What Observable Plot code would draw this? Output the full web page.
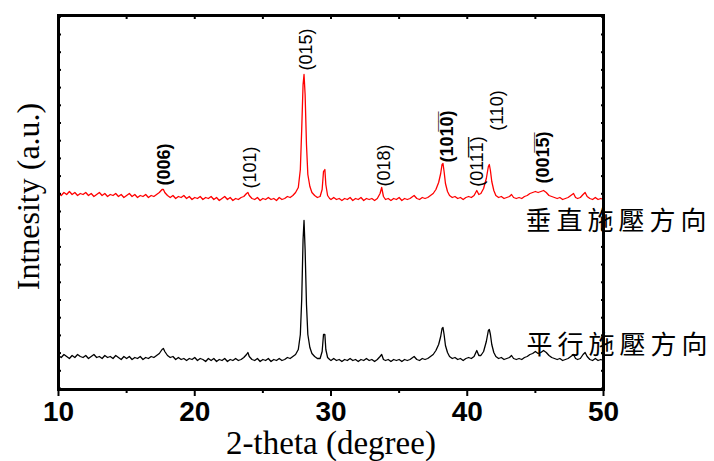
<!DOCTYPE html>
<html><head><meta charset="utf-8">
<script src="https://cdn.jsdelivr.net/npm/d3@7"></script>
<script src="https://cdn.jsdelivr.net/npm/@observablehq/plot@0.6"></script>
<style>html,body{margin:0;padding:0;background:#fff;}</style>
</head><body><div id="chart"></div>
<script>
// 2-theta (deg), intensity (a.u., offset traces)
const perpendicular = [[10.0,196],[10.2,194],[10.4,197],[10.6,195],[10.8,198],[11.0,195],[11.2,197],[11.4,194],[11.6,196],[11.8,195],[12.0,197],[12.2,194],[12.4,196],[12.6,193],[12.8,195],[13.0,197],[13.2,194],[13.4,196],[13.6,193],[13.8,195],[14.0,194],[14.2,196],[14.4,193],[14.6,195],[14.8,192],[15.0,194],[15.2,196],[15.4,193],[15.6,195],[15.8,192],[16.0,194],[16.2,193],[16.4,195],[16.6,192],[16.8,194],[17.0,193],[17.2,195],[17.4,197],[17.6,200],[17.7,200],[17.8,197],[18.0,194],[18.2,192],[18.4,194],[18.6,191],[18.8,193],[19.0,192],[19.2,194],[19.4,191],[19.6,193],[19.8,190],[20.0,192],[20.2,191],[20.4,193],[20.6,190],[20.8,192],[21.0,191],[21.2,193],[21.4,190],[21.6,192],[21.8,189],[22.0,191],[22.2,193],[22.4,190],[22.6,192],[22.8,189],[23.0,191],[23.2,190],[23.4,192],[23.6,193],[23.8,196],[23.9,197],[24.0,194],[24.2,191],[24.4,190],[24.6,192],[24.8,189],[25.0,191],[25.2,190],[25.4,192],[25.6,190],[25.8,191],[26.0,189],[26.2,192],[26.4,190],[26.6,191],[26.8,193],[27.0,192],[27.2,194],[27.4,197],[27.6,202],[27.75,220],[27.85,260],[27.95,305],[28.02,315],[28.1,295],[28.2,245],[28.3,215],[28.45,203],[28.6,197],[28.8,194],[29.0,192],[29.2,193],[29.35,200],[29.45,218],[29.55,220],[29.62,205],[29.75,194],[29.9,191],[30.0,190],[30.2,192],[30.4,190],[30.6,191],[30.8,189],[31.0,191],[31.2,190],[31.4,192],[31.6,189],[31.8,191],[32.0,190],[32.2,192],[32.4,189],[32.6,191],[32.8,190],[33.0,191],[33.2,189],[33.4,191],[33.6,196],[33.72,202],[33.85,193],[34.0,190],[34.2,191],[34.4,189],[34.6,191],[34.8,190],[35.0,192],[35.2,189],[35.4,191],[35.6,190],[35.8,191],[36.0,193],[36.1,194],[36.3,191],[36.5,190],[36.7,192],[36.9,191],[37.1,192],[37.3,194],[37.5,196],[37.7,200],[37.9,207],[38.05,216],[38.15,225],[38.22,226],[38.3,218],[38.4,206],[38.55,198],[38.7,194],[38.9,192],[39.1,193],[39.3,191],[39.5,192],[39.7,190],[39.9,192],[40.1,193],[40.3,192],[40.5,194],[40.7,199],[40.85,195],[41.0,196],[41.2,201],[41.4,211],[41.55,223],[41.62,225],[41.7,219],[41.8,208],[41.95,199],[42.1,194],[42.3,192],[42.5,193],[42.7,191],[42.9,192],[43.1,193],[43.25,195],[43.4,192],[43.6,191],[43.8,192],[44.0,191],[44.2,193],[44.4,194],[44.6,196],[44.8,197],[45.0,198],[45.2,197],[45.4,198],[45.6,199],[45.8,197],[46.0,194],[46.2,193],[46.4,192],[46.6,191],[46.8,192],[47.0,190],[47.2,191],[47.4,192],[47.6,194],[47.8,196],[47.95,192],[48.1,191],[48.3,192],[48.5,195],[48.65,197],[48.8,193],[49.0,191],[49.2,190],[49.4,192],[49.6,190],[49.8,191],[50.0,190]];

const parallel = [[10.0,34],[10.2,32],[10.4,35],[10.6,33],[10.8,31],[11.0,34],[11.2,32],[11.4,35],[11.6,33],[11.8,32],[12.0,34],[12.2,31],[12.4,33],[12.6,35],[12.8,32],[13.0,33],[13.2,31],[13.4,34],[13.6,32],[13.8,33],[14.0,31],[14.2,34],[14.4,32],[14.6,30],[14.8,33],[15.0,31],[15.2,33],[15.4,30],[15.6,32],[15.8,31],[16.0,33],[16.2,30],[16.4,32],[16.6,31],[16.8,33],[17.0,32],[17.2,34],[17.4,36],[17.6,40],[17.7,41],[17.8,38],[18.0,34],[18.2,32],[18.4,33],[18.6,30],[18.8,32],[19.0,30],[19.2,31],[19.4,29],[19.6,31],[19.8,30],[20.0,32],[20.2,29],[20.4,31],[20.6,30],[20.8,28],[21.0,31],[21.2,29],[21.4,31],[21.6,28],[21.8,30],[22.0,29],[22.2,31],[22.4,28],[22.6,30],[22.8,29],[23.0,31],[23.2,29],[23.4,30],[23.6,32],[23.8,35],[23.9,37],[24.0,33],[24.2,30],[24.4,29],[24.6,31],[24.8,28],[25.0,30],[25.2,29],[25.4,31],[25.6,28],[25.8,30],[26.0,29],[26.2,31],[26.4,29],[26.6,30],[26.8,32],[27.0,31],[27.2,33],[27.4,35],[27.6,40],[27.75,55],[27.85,90],[27.95,150],[28.02,169],[28.1,140],[28.2,85],[28.3,55],[28.45,42],[28.6,36],[28.8,33],[29.0,31],[29.2,31],[29.35,38],[29.45,55],[29.55,55],[29.62,40],[29.75,32],[29.9,30],[30.0,29],[30.2,31],[30.4,29],[30.6,30],[30.8,28],[31.0,30],[31.2,29],[31.4,31],[31.6,29],[31.8,30],[32.0,28],[32.2,30],[32.4,29],[32.6,31],[32.8,29],[33.0,30],[33.2,28],[33.4,30],[33.6,33],[33.72,35],[33.85,30],[34.0,29],[34.2,30],[34.4,28],[34.6,30],[34.8,29],[35.0,30],[35.2,28],[35.4,30],[35.6,29],[35.8,30],[36.0,32],[36.1,33],[36.3,30],[36.5,29],[36.7,31],[36.9,30],[37.1,31],[37.3,33],[37.5,35],[37.7,39],[37.9,45],[38.05,53],[38.15,61],[38.22,62],[38.3,55],[38.4,44],[38.55,37],[38.7,33],[38.9,31],[39.1,32],[39.3,30],[39.5,31],[39.7,29],[39.9,31],[40.1,32],[40.3,31],[40.5,33],[40.7,39],[40.85,34],[41.0,34],[41.2,38],[41.4,48],[41.55,59],[41.62,60],[41.7,55],[41.8,45],[41.95,37],[42.1,33],[42.3,31],[42.5,32],[42.7,30],[42.9,31],[43.1,32],[43.25,34],[43.4,31],[43.6,30],[43.8,31],[44.0,30],[44.2,32],[44.4,33],[44.6,35],[44.8,36],[45.0,38],[45.2,36],[45.4,37],[45.6,39],[45.8,37],[46.0,34],[46.2,32],[46.4,31],[46.6,30],[46.8,31],[47.0,29],[47.2,30],[47.4,31],[47.6,33],[47.8,35],[47.95,31],[48.1,30],[48.3,31],[48.5,35],[48.65,37],[48.8,33],[49.0,30],[49.2,29],[49.4,31],[49.6,29],[49.8,30],[50.0,29]];

// peak indices (hkl) : label, 2-theta, label height (a.u.), bold
const hklLabels = ["(006)", "(101)", "(015)", "(018)", "(101\u03050\u0305)", "(011\u03051\u0305)", "(110)", "(001\u03055\u0305)"];
const hklTheta  = [17.78, 24.09, 28.2, 33.93, 38.55, 40.75, 42.22, 45.6];
const hklHeight = [225, 222, 340, 224, 253, 228, 279, 232];
const hklBold   = [true, false, false, false, true, false, false, true];

const sampleNames  = ["垂直施壓方向", "平行施壓方向"];
const sampleTheta  = [44.28, 44.35];
const sampleHeight = [168, 44];

const xMajor = [10, 20, 30, 40, 50];
const xMinor = [15, 25, 35, 45];
const xAll = [10, 15, 20, 25, 30, 35, 40, 45, 50];
const yTicks = d3.range(1, 374, 17.7);
const xTitle = "2-theta (degree)";
const yTitle = "Intnesity (a.u.)";

const hkl = hklLabels.map((t, i) => ({t, x: hklTheta[i], y: hklHeight[i], b: hklBold[i]}));
const samples = sampleNames.map((t, i) => ({t, x: sampleTheta[i], y: sampleHeight[i]}));
const serif = "'Liberation Serif', 'Times New Roman', serif";
const sans = "'Liberation Sans', Arial, sans-serif";

const chart = Plot.plot({
  width: 714, height: 461,
  marginLeft: 58, marginRight: 111, marginTop: 15, marginBottom: 72,
  style: {fontFamily: sans, background: "white", overflow: "visible", color: "black"},
  x: {domain: [10, 50], axis: null},
  y: {domain: [0, 374], axis: null},
  marks: [
    Plot.line(parallel, {x: d => d[0], y: d => d[1], stroke: "black", strokeWidth: 1.3}),
    Plot.line(perpendicular, {x: d => d[0], y: d => d[1], stroke: "#ff0000", strokeWidth: 1.3}),
    Plot.frame({stroke: "black", strokeWidth: 3}),
    Plot.axisX({anchor: "bottom", ticks: xMajor, tickSize: 7, tickPadding: 5, strokeWidth: 2, fontSize: 28, fontWeight: "bold", fontFamily: sans, label: null}),
    Plot.axisX({anchor: "bottom", ticks: xMinor, tickSize: 4, strokeWidth: 2, tickFormat: () => "", label: null}),
    Plot.axisX({anchor: "top", ticks: xAll, tickSize: -3, strokeWidth: 2, tickFormat: () => "", label: null}),
    Plot.axisY({anchor: "left", ticks: yTicks, tickSize: -3, strokeWidth: 2, tickFormat: () => "", label: null}),
    Plot.axisY({anchor: "right", ticks: yTicks, tickSize: -3, strokeWidth: 2, tickFormat: () => "", label: null}),
    Plot.text([xTitle], {text: d => d, frameAnchor: "bottom", dy: 64, lineAnchor: "bottom", fontFamily: serif, fontSize: 33, fill: "black"}),
    Plot.text([yTitle], {text: d => d, frameAnchor: "left", textAnchor: "middle", rotate: -90, dx: -30, dy: -6, fontFamily: serif, fontSize: 32, fill: "black"}),
    Plot.text(hkl.filter(d => d.b), {x: "x", y: "y", text: "t", rotate: -90, fontSize: 18, fontWeight: "bold", fontFamily: sans, fill: "black"}),
    Plot.text(hkl.filter(d => !d.b), {x: "x", y: "y", text: "t", rotate: -90, fontSize: 18, fontFamily: sans, fill: "black"}),
    Plot.text(samples, {x: "x", y: "y", text: "t", textAnchor: "start", fontSize: 26, fontFamily: "'Noto Sans CJK TC', sans-serif", fill: "black"})
  ]
});
d3.select(chart).selectAll("text").filter(function() { return sampleNames.includes(this.textContent); }).style("letter-spacing", "5px");
document.getElementById("chart").appendChild(chart);
</script>
</body></html>
